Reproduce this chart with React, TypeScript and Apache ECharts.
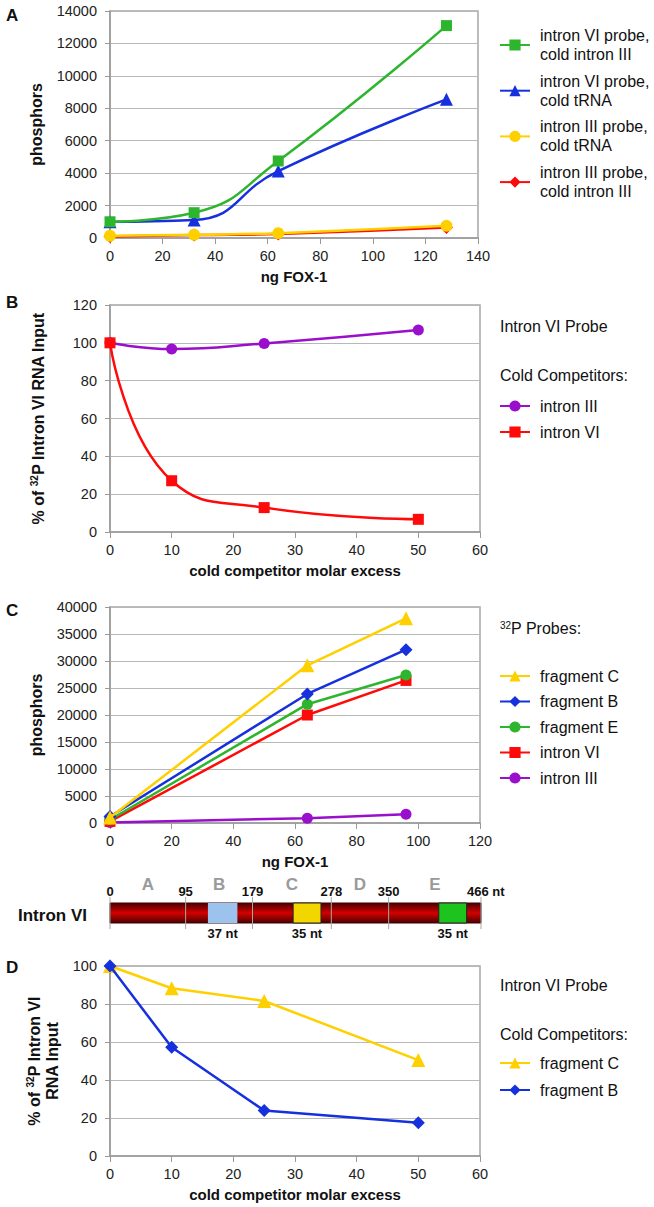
import React, { useEffect, useRef } from 'react';
import * as echarts from 'echarts';

const FONT = '"Liberation Sans", Arial, Helvetica, sans-serif';

// ---------- Panel A ----------
const aDose = [0, 32, 64, 128];
const aNames = [
  'intron VI probe,\ncold intron III',
  'intron VI probe,\ncold tRNA',
  'intron III probe,\ncold tRNA',
  'intron III probe,\ncold intron III',
];
const aIntron6Cold3 = [1000, 1560, 4750, 13100];
const aIntron6tRNA = [1000, 1110, 4130, 8550];
const aIntron3tRNA = [140, 200, 300, 750];
const aIntron3Cold3 = [100, 180, 250, 640];

// ---------- Panel B ----------
const bExcess = [0, 10, 25, 50];
const bNames = ['intron III', 'intron VI'];
const bIntron3 = [100, 96.7, 99.7, 106.8];
const bIntron6 = [100, 27.1, 12.9, 6.7];

// ---------- Panel C ----------
const cDose = [0, 64, 96];
const cNames = ['fragment C', 'fragment B', 'fragment E', 'intron VI', 'intron III'];
const cFragC = [1000, 29200, 37900];
const cFragB = [1200, 23900, 32100];
const cFragE = [600, 22000, 27400];
const cIntron6 = [300, 20000, 26400];
const cIntron3 = [100, 900, 1600];

// ---------- Intron VI map ----------
const intronBounds = [0, 95, 179, 278, 350, 466];
const fragmentLetters = ['A', 'B', 'C', 'D', 'E'];
const bindingStarts = [123, 230, 413];
const bindingLengths = [37, 35, 35];

// ---------- Panel D ----------
const dExcess = [0, 10, 25, 50];
const dNames = ['fragment C', 'fragment B'];
const dFragC = [100, 88.3, 81.6, 50.5];
const dFragB = [100, 57.2, 23.9, 17.5];

const GREEN = '#2db52d';
const BLUE = '#1530dc';
const YELLOW = '#ffd000';
const RED = '#ff0a0a';
const PURPLE = '#9a0fcc';
const BOX_COLORS = ['#9cc2ee', '#f2d600', '#1ec41e'];

function line(name: string, xs: number[], ys: number[], idx: number, color: string, symbol: string, size: number, smooth: boolean, z = 2) {
  return {
    type: 'line',
    name,
    xAxisIndex: idx,
    yAxisIndex: idx,
    data: xs.map((x, i) => [x, ys[i]]),
    smooth,
    symbol,
    symbolSize: size,
    showSymbol: true,
    lineStyle: { color, width: 2.5 },
    itemStyle: { color },
    z,
    clip: false,
  };
}

const plain = (v: number) => String(v);

function xAxis(idx: number, min: number, max: number, interval: number, name: string) {
  return {
    type: 'value', gridIndex: idx, min, max, interval, name,
    nameLocation: 'middle', nameGap: 31,
    nameTextStyle: { fontSize: 15, fontWeight: 'bold', color: '#111', fontFamily: FONT },
    axisLine: { show: true, onZero: false, lineStyle: { color: '#9a9a9a', width: 1.5 } },
    axisTick: { show: true, length: 6, lineStyle: { color: '#9a9a9a' } },
    axisLabel: { fontSize: 14.5, color: '#222', margin: 10, fontFamily: FONT, formatter: plain },
    splitLine: { show: false },
  };
}

function yAxis(idx: number, min: number, max: number, interval: number, name: string, nameGap: number, rich?: any) {
  return {
    type: 'value', gridIndex: idx, min, max, interval, name,
    nameLocation: 'middle', nameGap,
    nameTextStyle: { fontSize: 16, fontWeight: 'bold', color: '#111', fontFamily: FONT, lineHeight: 18, rich },
    axisLine: { show: true, lineStyle: { color: '#9a9a9a', width: 1.5 } },
    axisTick: { show: true, length: 5, lineStyle: { color: '#9a9a9a' } },
    axisLabel: { fontSize: 14.5, color: '#222', margin: 13, fontFamily: FONT, formatter: plain },
    splitLine: { show: true, lineStyle: { color: '#b8b8b8', width: 1 } },
  };
}

const supRich = { sup: { fontSize: 10, fontWeight: 'bold', verticalAlign: 'top', fontFamily: FONT } };

function legend(data: string[], top: number, gap: number, twoLine = false) {
  return {
    data, left: 499, top, orient: 'vertical', padding: 0,
    itemWidth: 30, itemHeight: 14, itemGap: gap, selectedMode: false,
    textStyle: {
      fontSize: 16, lineHeight: 19, color: '#111', fontFamily: FONT,
      padding: twoLine ? [19, 0, 0, 5] : [0, 0, 0, 5],
    },
  };
}

function txt(x: number, y: number, text: string, size: number, bold = false, color = '#111', rich?: any) {
  return {
    type: 'text', x, y, silent: true,
    style: { text, fontSize: size, fontWeight: bold ? 'bold' : 'normal', fontFamily: FONT, fill: color, verticalAlign: 'middle', rich },
  };
}

export default function App() {
  const ref = useRef<HTMLDivElement>(null);
  useEffect(() => {
    if (!ref.current) return;
    const chart = echarts.init(ref.current, undefined, { renderer: 'svg' });
    const gridBase = { show: true, borderColor: '#a6a6a6', borderWidth: 1.5, backgroundColor: 'transparent' };

    const option: any = {
      animation: false,
      backgroundColor: '#ffffff',
      textStyle: { fontFamily: FONT },
      grid: [
        { ...gridBase, left: 110, top: 11, width: 368, height: 227 },
        { ...gridBase, left: 110, top: 305, width: 370, height: 227 },
        { ...gridBase, left: 110, top: 607, width: 370, height: 216 },
        { left: 110, top: 903, width: 371, height: 20, show: false },
        { ...gridBase, left: 110, top: 966, width: 370, height: 190 },
      ],
      xAxis: [
        xAxis(0, 0, 140, 20, 'ng FOX-1'),
        xAxis(1, 0, 60, 10, 'cold competitor molar excess'),
        xAxis(2, 0, 120, 20, 'ng FOX-1'),
        { type: 'value', gridIndex: 3, min: 0, max: 466, show: false },
        xAxis(4, 0, 60, 10, 'cold competitor molar excess'),
      ],
      yAxis: [
        yAxis(0, 0, 14000, 2000, 'phosphors', 62),
        yAxis(1, 0, 120, 20, '% of {sup|32}P Intron VI RNA Input', 63, supRich),
        yAxis(2, 0, 40000, 5000, 'phosphors', 60),
        { type: 'value', gridIndex: 3, min: 0, max: 1, show: false },
        yAxis(4, 0, 100, 20, '% of {sup|32}P Intron VI\nRNA Input', 44, supRich),
      ],
      legend: [
        legend(aNames, 16.5, -11.3, true),
        legend(bNames, 396.5, 7),
        legend(cNames, 666.5, 6.5),
        legend(dNames, 1053.5, 8),
      ],
      graphic: [
        txt(6, 15, 'A', 17, true),
        txt(6, 302, 'B', 17, true),
        txt(6, 610, 'C', 17, true),
        txt(6, 967, 'D', 17, true),
        txt(500, 326, 'Intron VI Probe', 16),
        txt(500, 375, 'Cold Competitors:', 16),
        txt(500, 628, '{sup|32}{n|P Probes:}', 16, false, '#111', {
          sup: { fontSize: 10, verticalAlign: 'top', fontFamily: FONT, fill: '#111' },
          n: { fontSize: 16, fontFamily: FONT, fill: '#111' },
        }),
        txt(500, 985, 'Intron VI Probe', 16),
        txt(500, 1034, 'Cold Competitors:', 16),
        txt(18, 915, 'Intron VI', 17, true),
      ],
      series: [
        // Panel A
        line(aNames[3], aDose, aIntron3Cold3, 0, RED, 'diamond', 13, true, 2),
        line(aNames[2], aDose, aIntron3tRNA, 0, YELLOW, 'circle', 12, true, 3),
        line(aNames[1], aDose, aIntron6tRNA, 0, BLUE, 'triangle', 13, true, 4),
        line(aNames[0], aDose, aIntron6Cold3, 0, GREEN, 'rect', 11, true, 5),
        // Panel B
        line(bNames[0], bExcess, bIntron3, 1, PURPLE, 'circle', 11, true, 3),
        line(bNames[1], bExcess, bIntron6, 1, RED, 'rect', 11, true, 4),
        // Panel C
        line(cNames[4], cDose, cIntron3, 2, PURPLE, 'circle', 11, false, 2),
        line(cNames[3], cDose, cIntron6, 2, RED, 'rect', 11, false, 3),
        line(cNames[2], cDose, cFragE, 2, GREEN, 'circle', 11, false, 4),
        line(cNames[1], cDose, cFragB, 2, BLUE, 'diamond', 13, false, 5),
        line(cNames[0], cDose, cFragC, 2, YELLOW, 'triangle', 14, false, 6),
        // Panel D
        line(dNames[0], dExcess, dFragC, 4, YELLOW, 'triangle', 14, false, 3),
        line(dNames[1], dExcess, dFragB, 4, BLUE, 'diamond', 13, false, 4),
        // Intron VI map: bar
        {
          type: 'custom', xAxisIndex: 3, yAxisIndex: 3, silent: true, clip: false, z: 1,
          data: [[intronBounds[0], intronBounds[intronBounds.length - 1]]],
          renderItem: (_p: any, api: any) => {
            const a = api.coord([api.value(0), 1]);
            const b = api.coord([api.value(1), 0]);
            return {
              type: 'rect',
              shape: { x: a[0], y: a[1], width: b[0] - a[0], height: b[1] - a[1] },
              style: {
                fill: new echarts.graphic.LinearGradient(0, 0, 0, 1, [
                  { offset: 0, color: '#4a0000' },
                  { offset: 0.5, color: '#d40000' },
                  { offset: 1, color: '#4a0000' },
                ]),
                stroke: '#3a0000', lineWidth: 1,
              },
            };
          },
        },
        // boundary ticks + position labels
        {
          type: 'custom', xAxisIndex: 3, yAxisIndex: 3, silent: true, clip: false, z: 3,
          data: intronBounds.map((b, i) => [b, i]),
          renderItem: (_p: any, api: any) => {
            const v = api.value(0);
            const i = api.value(1);
            const top = api.coord([v, 1]);
            const bot = api.coord([v, 0]);
            const last = i === intronBounds.length - 1;
            return {
              type: 'group',
              children: [
                { type: 'line', shape: { x1: top[0], y1: top[1] - 6, x2: bot[0], y2: bot[1] + 6 }, style: { stroke: '#a8a8a8', lineWidth: 1 } },
                {
                  type: 'text',
                  style: {
                    text: last ? `${v} nt` : `${v}`,
                    x: last ? top[0] - 14 : top[0], y: top[1] - 12,
                    align: last ? 'left' : 'center', verticalAlign: 'middle',
                    fontSize: 13, fontWeight: 'bold', fontFamily: FONT, fill: '#111',
                  },
                },
              ],
            };
          },
        },
        // fragment letters
        {
          type: 'custom', xAxisIndex: 3, yAxisIndex: 3, silent: true, clip: false, z: 3,
          data: fragmentLetters.map((_l, i) => [(intronBounds[i] + intronBounds[i + 1]) / 2, i]),
          renderItem: (_p: any, api: any) => {
            const p = api.coord([api.value(0), 1]);
            return {
              type: 'text',
              style: {
                text: fragmentLetters[api.value(1)], x: p[0], y: p[1] - 19,
                align: 'center', verticalAlign: 'middle',
                fontSize: 17, fontWeight: 'bold', fontFamily: FONT, fill: '#9a9a9a',
              },
            };
          },
        },
        // binding boxes
        {
          type: 'custom', xAxisIndex: 3, yAxisIndex: 3, silent: true, clip: false, z: 2,
          data: bindingStarts.map((s, i) => [s, s + bindingLengths[i], bindingLengths[i], i]),
          renderItem: (_p: any, api: any) => {
            const a = api.coord([api.value(0), 1]);
            const b = api.coord([api.value(1), 0]);
            const i = api.value(3);
            return {
              type: 'group',
              children: [
                {
                  type: 'rect',
                  shape: { x: a[0], y: a[1], width: b[0] - a[0], height: b[1] - a[1] },
                  style: { fill: BOX_COLORS[i], stroke: i === 0 ? 'rgba(0,0,0,0)' : '#222', lineWidth: 1 },
                },
                {
                  type: 'text',
                  style: {
                    text: `${api.value(2)} nt`, x: (a[0] + b[0]) / 2, y: b[1] + 10,
                    align: 'center', verticalAlign: 'middle',
                    fontSize: 13, fontWeight: 'bold', fontFamily: FONT, fill: '#111',
                  },
                },
              ],
            };
          },
        },
      ],
    };
    chart.setOption(option);
    return () => chart.dispose();
  }, []);

  return <div ref={ref} style={{ position: 'absolute', left: 0, top: 0, width: 654, height: 1207 }} />;
}
